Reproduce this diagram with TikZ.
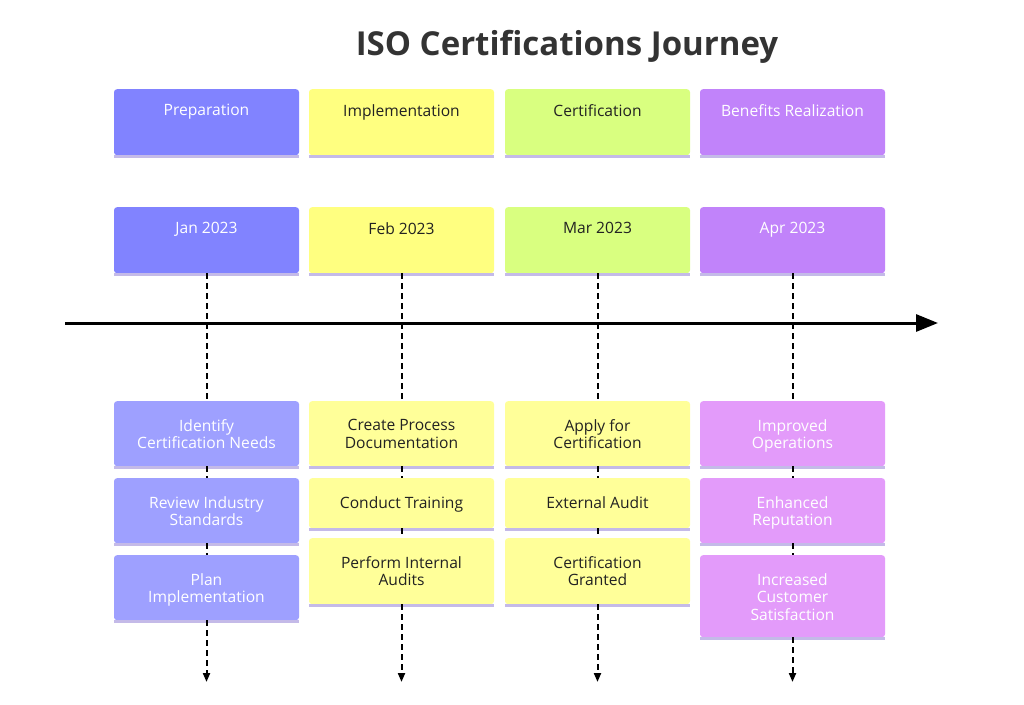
\documentclass[tikz,border=0pt]{standalone}
\usepackage{fontspec}
\setmainfont{Open Sans}
\usetikzlibrary{arrows.meta}
\definecolor{prepHead}{RGB}{129,131,255}
\definecolor{prepTask}{RGB}{158,160,255}
\definecolor{implHead}{RGB}{255,255,128}
\definecolor{implTask}{RGB}{255,255,153}
\definecolor{certHead}{RGB}{217,255,128}
\definecolor{beneHead}{RGB}{193,131,250}
\definecolor{beneTask}{RGB}{227,155,250}
\definecolor{cardLine}{RGB}{196,186,232}
\definecolor{darkText}{RGB}{34,34,34}
\definecolor{titleGray}{RGB}{51,51,51}
\begin{document}
\begin{tikzpicture}[x=1pt, y=-1pt,
    card/.style={rectangle, rounded corners=3pt, minimum width=185pt, anchor=north, inner sep=0pt,
        append after command={([yshift=-1pt]\tikzlastnode.south west) edge[cardline] ([yshift=-1pt]\tikzlastnode.south east)}},
    cardline/.style={draw=cardLine, line width=2.5pt},
    cardtext/.style={anchor=north, inner sep=0pt, align=center, font=\fontsize{15.6}{17.5}\selectfont},
    link/.style={draw=black, line width=2pt, dash pattern=on 6pt off 4pt},
    timeline/.style={draw=black, line width=3pt, -{Triangle[length=22pt, width=17pt]}}]
    \useasboundingbox (0,0) rectangle (1024,704);
    % title
    \node[font=\bfseries\fontsize{33}{38}\selectfont, text=titleGray] (title) at (567,47) {ISO Certifications Journey};
    % phases and months
    \foreach \i/\x/\hc/\tc/\head/\month in {1/206.5/prepHead/white/Preparation/Jan 2023,
                                            2/401.5/implHead/darkText/Implementation/Feb 2023,
                                            3/597.5/certHead/darkText/Certification/Mar 2023,
                                            4/792.5/beneHead/white/Benefits Realization/Apr 2023} {
        \node[card, fill=\hc, minimum height=66pt] (h\i) at (\x,89) {};
        \node[cardtext, text=\tc] (h\i-t) at ([yshift=-15pt]h\i.north) {\head};
        \node[card, fill=\hc, minimum height=66pt] (d\i) at (\x,207) {};
        \node[cardtext, text=\tc] (d\i-t) at ([yshift=-15pt]d\i.north) {\month};
        \coordinate (end\i) at (\x,682);
    }
    % timeline
    \coordinate (tl-start) at (65,323);
    \coordinate (tl-end) at (938,323);
    \draw[timeline] (tl-start) -- (tl-end);
    % tasks
    \foreach \n/\x/\y/\h/\c/\tc/\txt in {
        1-1/206.5/401/65/prepTask/white/{Identify\\Certification Needs},
        1-2/206.5/478/65/prepTask/white/{Review Industry\\Standards},
        1-3/206.5/555/65/prepTask/white/{Plan\\Implementation},
        2-1/401.5/401/65/implTask/darkText/{Create Process\\Documentation},
        2-2/401.5/478/50/implTask/darkText/{Conduct Training},
        2-3/401.5/538/66/implTask/darkText/{Perform Internal\\Audits},
        3-1/597.5/401/65/implTask/darkText/{Apply for\\Certification},
        3-2/597.5/478/50/implTask/darkText/{External Audit},
        3-3/597.5/538/66/implTask/darkText/{Certification\\Granted},
        4-1/792.5/401/65/beneTask/white/{Improved\\Operations},
        4-2/792.5/478/65/beneTask/white/{Enhanced\\Reputation},
        4-3/792.5/555/82/beneTask/white/{Increased\\Customer\\Satisfaction}} {
        \node[card, fill=\c, minimum height=\h pt] (task\n) at (\x,\y) {};
        \node[cardtext, text=\tc] (task\n-t) at ([yshift=-18pt]task\n.north) {\txt};
    }
    % dashed links
    \foreach \i in {1,...,4} {
        \draw[link] (d\i.south) -- (task\i-1.north);
        \draw[link] (task\i-1.south) -- (task\i-2.north);
        \draw[link] (task\i-2.south) -- (task\i-3.north);
        \draw[link, -{Triangle[length=9pt, width=7pt]}] (task\i-3.south) -- (end\i);
    }
\end{tikzpicture}
\end{document}
